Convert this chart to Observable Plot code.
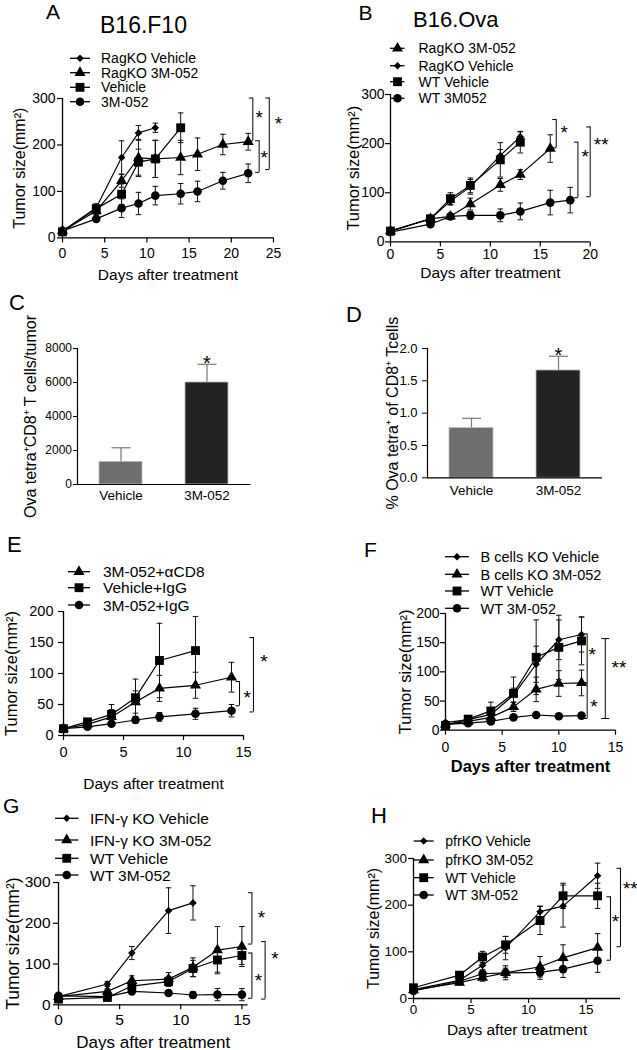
<!DOCTYPE html>
<html><head><meta charset="utf-8">
<script src="https://cdn.jsdelivr.net/npm/d3@7"></script>
<script src="https://cdn.jsdelivr.net/npm/@observablehq/plot@0.6"></script>
<style>
html,body{margin:0;padding:0;background:#fff;}
#page{position:relative;width:637px;height:1050px;overflow:hidden;background:#fff;font-family:"Liberation Sans",Arial,Helvetica,sans-serif;}
#page svg{position:absolute;}
</style></head>
<body><div id="page"></div>
<script>
// ================= DATA =================
// rows: [day, mean, sem]
// ---- Panel A: B16.F10
const A_title = "B16.F10";
const A_names = ["RagKO Vehicle", "RagKO 3M-052", "Vehicle", "3M-052"];
const A_shapes = ["diamond", "triangle", "square", "circle"];
const A_ragkoVehicle = [[0,15,3],[4,65,8],[7,173,36],[9,226,16],[11,237,10]];
const A_ragko3M052  = [[0,15,3],[4,58,8],[7,123,14],[9,172,40],[11,170,40],[14,173,37],[16,180,35],[19,201,22],[22,207,18]];
const A_vehicle     = [[0,13,3],[4,63,10],[7,94,22],[9,163,28],[11,170,40],[14,237,32]];
const A_3M052       = [[0,15,3],[4,41,4],[7,64,20],[9,74,24],[11,91,20],[14,95,22],[16,100,22],[19,123,18],[22,139,20]];
const A_xTicks = [0,5,10,15,20,25];
const A_yTicks = [0,100,200,300];
// brackets: [x, yTop, yBottom, label, labelX, labelY, capsBothSides]
const A_brackets = [[22.55,301,209,"*",23.3,268,0],[23.3,209,141,"*",23.9,182,0],[24.5,301,147,"*",25.6,257,0]];

// ---- Panel B: B16.Ova
const B_title = "B16.Ova";
const B_names = ["RagKO 3M-052", "RagKO Vehicle", "WT Vehicle", "WT 3M052"];
const B_shapes = ["triangle", "diamond", "square", "circle"];
const B_ragko3M052  = [[0,22,3],[4,47,5],[6,52,5],[8,77,12],[11,116,13],[13,137,10],[16,190,28]];
const B_ragkoVehicle = [[0,22,3],[4,47,5],[6,83,8],[8,112,15],[11,176,12],[13,214,10]];
const B_wtVehicle   = [[0,22,3],[4,47,5],[6,88,12],[8,115,15],[11,167,35],[13,203,22]];
const B_wt3M052     = [[0,20,3],[4,36,4],[6,52,5],[8,54,8],[11,54,13],[13,62,17],[16,80,25],[18,85,26]];
const B_xTicks = [0,5,10,15,20];
const B_yTicks = [0,100,200,300];
const B_brackets = [[16.6,249,191.5,"*",17.4,231,0],[18.77,203,90,"*",19.5,183,0],[20.0,234,92,"**",21.1,207,0]];

// ---- Panel C
const C_categories = ["Vehicle", "3M-052"];
const C_means = [1330, 6000];
const C_errors = [830, 1070];
const C_yTicks = [0,2000,4000,6000,8000];
const C_signif = ["", "*"];

// ---- Panel D
const D_categories = ["Vehicle", "3M-052"];
const D_means = [0.77, 1.66];
const D_errors = [0.15, 0.22];
const D_yTicks = [0,0.5,1.0,1.5,2.0];
const D_signif = ["", "*"];

// ---- Panel E
const E_names = ["3M-052+\u03b1CD8", "Vehicle+IgG", "3M-052+IgG"];
const E_shapes = ["triangle", "square", "circle"];
const E_aCD8   = [[0,11,2],[2,18,4],[4,30,12],[6,54,18],[8,76,21],[11,81,21],[14,94,24]];
const E_vehIgG = [[0,11,2],[2,22,4],[4,34,16],[6,61,30],[8,121,60],[11,137,55]];
const E_3MIgG  = [[0,11,2],[2,14,3],[4,19,4],[6,25,5],[8,30,7],[11,35,9],[14,40,10]];
const E_xTicks = [0,5,10,15];
const E_yTicks = [0,50,100,150,200];
const E_brackets = [[15.83,158,38,"*",16.7,127,0],[14.67,87,48,"*",15.3,68,0]];

// ---- Panel F
const F_names = ["B cells KO Vehicle", "B cells KO 3M-052", "WT Vehicle", "WT 3M-052"];
const F_shapes = ["diamond", "triangle", "square", "circle"];
const F_bkoVehicle = [[0,13,3],[2,18,4],[4,27,6],[6,60,12],[8,113,31],[10,155,34],[12,164,30]];
const F_bko3M052   = [[0,10,3],[2,15,4],[4,22,5],[6,40,8],[8,70,21],[10,80,22],[12,81,22]];
const F_wtVehicle  = [[0,8,3],[2,19,4],[4,33,15],[6,63,28],[8,125,64],[10,142,55],[12,153,41]];
const F_wt3M052    = [[0,10,2],[2,12,3],[4,15,3],[6,22,4],[8,26,4],[10,24,4],[12,25,4]];
const F_xTicks = [0,5,10,15];
const F_yTicks = [0,50,100,150,200];
const F_brackets = [[12.5,165,81,"*",12.95,137,0],[12.5,81,20,"*",13.1,48,0],[14.1,157,20,"**",15.3,115,1]];

// ---- Panel G
const G_names = ["IFN-\u03b3 KO Vehicle", "IFN-\u03b3 KO 3M-052", "WT Vehicle", "WT 3M-052"];
const G_shapes = ["diamond", "triangle", "square", "circle"];
const G_ifngVehicle = [[0,20,3],[4,51,6],[6,127,16],[9,231,56],[11,250,42]];
const G_ifng3M052   = [[0,20,3],[4,33,6],[6,59,12],[9,63,16],[11,92,23],[13,134,58],[15,143,49]];
const G_wtVehicle   = [[0,14,3],[4,18,5],[6,46,10],[9,57,12],[11,89,20],[13,110,30],[15,121,22]];
const G_wt3M052     = [[0,22,5],[4,20,5],[6,33,6],[9,29,6],[11,24,8],[13,25,15],[15,25,15]];
const G_xTicks = [0,5,10,15];
const G_yTicks = [0,100,200,300];
const G_brackets = [[15.82,275,149,"*",16.6,226,0],[16.9,155,14,"*",17.7,124,0],[15.82,127,16,"*",16.35,71,0]];

// ---- Panel H
const H_names = ["pfrKO Vehicle", "pfrKO 3M-052", "WT Vehicle", "WT 3M-052"];
const H_shapes = ["diamond", "triangle", "square", "circle"];
const H_pfrVehicle = [[0,19,3],[4,39,5],[6,71,10],[8,108,25],[11,186,12],[13,198,45],[16,263,27]];
const H_pfr3M052   = [[0,18,3],[4,34,5],[6,45,8],[8,55,15],[11,68,22],[13,87,28],[16,109,30]];
const H_wtVehicle  = [[0,23,4],[4,50,5],[6,89,12],[8,115,18],[11,167,30],[13,220,27],[16,220,27]];
const H_wt3M052    = [[0,16,3],[4,37,5],[6,53,8],[8,55,10],[11,56,15],[13,63,18],[16,81,25]];
const H_xTicks = [0,5,10,15];
const H_yTicks = [0,100,200,300];
const H_brackets = [[17.12,218,82,"*",17.55,175,0],[17.99,279,111,"**",18.85,246,0]];

// ================= RENDERING =================
const FONT = '"Liberation Sans", Arial, Helvetica, sans-serif';
const page = document.getElementById("page");
const SYM = {
  diamond:  {plot: "diamond2", d3: d3.symbolDiamond2, r: 3.4},
  triangle: {plot: "triangle", d3: d3.symbolTriangle, r: 4.1},
  square:   {plot: "square",   d3: d3.symbolSquare,   r: 5.0},
  circle:   {plot: "circle",   d3: d3.symbolCircle,   r: 4.3}
};
const capBoth = {draw(ctx, size) { const r = Math.sqrt(size / Math.PI); ctx.moveTo(-r, 0); ctx.lineTo(r, 0); }};
const capLeft = {draw(ctx, size) { const r = Math.sqrt(size / Math.PI); ctx.moveTo(-r, 0); ctx.lineTo(0, 0); }};

function place(el, left, top) {
  el.style.position = "absolute";
  el.style.left = left + "px";
  el.style.top = top + "px";
  page.appendChild(el);
}

function linePanel(c) {
  const ml = 80, mr = 60, mt = 30, mb = 70;
  const f = c.frame;
  const rows = c.series.flatMap((data, i) => data.map(([day, mean, err]) => ({name: c.names[i], shape: c.shapes[i], day, mean, err})));
  const brk = c.brackets.map(([x, y1, y2, label, lx, ly, both]) => ({x, y1, y2, label, lx, ly, both}));
  const ends = brk.flatMap(b => [{x: b.x, y: b.y1, both: b.both}, {x: b.x, y: b.y2, both: b.both}]);
  const marks = [
    Plot.ruleX(rows, {x: "day", y1: d => d.mean - d.err, y2: d => d.mean + d.err, stroke: "#111", strokeWidth: 1}),
    Plot.dot(rows, {x: "day", y: d => d.mean + d.err, symbol: capBoth, r: 2.8, stroke: "#111", fill: "none", strokeWidth: 1}),
    Plot.dot(rows, {x: "day", y: d => d.mean - d.err, symbol: capBoth, r: 2.8, stroke: "#111", fill: "none", strokeWidth: 1}),
    Plot.line(rows, {x: "day", y: "mean", z: "name", stroke: "#000", strokeWidth: 1.2}),
    ...c.names.map((n, i) => Plot.dot(rows.filter(r => r.name === n), {x: "day", y: "mean", symbol: SYM[c.shapes[i]].plot, r: SYM[c.shapes[i]].r, fill: "#000", stroke: "none"})),
    Plot.ruleX([0], {stroke: "#000", strokeWidth: 1.3}),
    Plot.ruleY([0], {stroke: "#000", strokeWidth: 1.3}),
    Plot.axisX({ticks: c.xTicks, tickSize: 5, tickPadding: c.xPad, fontSize: c.tickFont, label: null, tickFormat: d => String(d), stroke: "#000", strokeWidth: 1.2}),
    Plot.axisY({ticks: c.yTicks, tickSize: 5, tickPadding: c.yPad, fontSize: c.tickFont, label: null, tickFormat: d => String(d), stroke: "#000", strokeWidth: 1.2}),
    Plot.text(["Tumor size(mm\u00b2)"], {frameAnchor: "left", rotate: -90, dx: -c.yLabOff, lineAnchor: "top", textAnchor: "middle", fontSize: c.yLabFont, fill: "#000"}),
    Plot.text(["Days after treatment"], {frameAnchor: "bottom", dy: c.xLabOff, lineAnchor: "bottom", textAnchor: "middle", fontSize: c.xLabFont, fontWeight: c.xLabWeight || "normal", fill: "#000"}),
    Plot.ruleX(brk, {x: "x", y1: "y1", y2: "y2", stroke: "#000", strokeWidth: 1}),
    Plot.dot(ends.filter(e => !e.both), {x: "x", y: "y", symbol: capLeft, r: 4, stroke: "#000", fill: "none", strokeWidth: 1}),
    Plot.dot(ends.filter(e => e.both), {x: "x", y: "y", symbol: capBoth, r: 4, stroke: "#000", fill: "none", strokeWidth: 1}),
    Plot.text(brk, {x: "lx", y: "ly", text: "label", fontSize: 19, lineAnchor: "middle", textAnchor: "middle", dy: 5, fill: "#000"})
  ];
  const el = Plot.plot({
    width: (f.x1 - f.x0) + ml + mr, height: (f.yB - f.yT) + mt + mb,
    marginLeft: ml, marginRight: mr, marginTop: mt, marginBottom: mb,
    x: {domain: c.xDomain}, y: {domain: c.yDomain},
    style: {background: "transparent", overflow: "visible", fontFamily: FONT, color: "#000", maxWidth: "none"},
    marks
  });
  place(el, f.x0 - ml, f.yT - mt);
}

function barPanel(c) {
  const ml = 80, mr = 40, mt = 30, mb = 50;
  const f = c.frame;
  const rows = c.categories.map((cat, i) => ({cat, mean: c.means[i], err: c.errors[i], sig: c.signif[i]}));
  const el = Plot.plot({
    width: (f.x1 - f.x0) + ml + mr, height: (f.yB - f.yT) + mt + mb,
    marginLeft: ml, marginRight: mr, marginTop: mt, marginBottom: mb,
    x: {domain: c.categories, paddingInner: 0.5, paddingOuter: 0.25},
    y: {domain: c.yDomain},
    style: {background: "transparent", overflow: "visible", fontFamily: FONT, color: "#000", maxWidth: "none"},
    marks: [
      Plot.ruleX(rows, {x: "cat", y1: "mean", y2: d => d.mean + d.err, stroke: "#7a7a7a", strokeWidth: 1.2}),
      Plot.dot(rows, {x: "cat", y: d => d.mean + d.err, symbol: capBoth, r: 9.5, stroke: "#7a7a7a", fill: "none", strokeWidth: 1.2}),
      Plot.barY(rows, {x: "cat", y: "mean", fill: (d, i) => c.fills[i], stroke: "#bdbdbd", strokeWidth: 0.8}),
      Plot.text(rows, {x: "cat", y: d => d.mean + d.err, text: "sig", fontSize: 20, lineAnchor: "middle", dy: -1, fill: "#000"}),
      Plot.frame({anchor: "left", stroke: "#000", strokeWidth: 1.2}),
      Plot.ruleY([0], {stroke: "#000", strokeWidth: 1.2}),
      Plot.axisY({ticks: c.yTicks, tickSize: c.yTickSize, tickPadding: c.yPad, fontSize: c.tickFont, label: null, tickFormat: c.tickFormat, stroke: "#000"}),
      Plot.axisX({tickSize: 0, tickPadding: c.xPad, fontSize: c.catFont, label: null}),
      Plot.text([c.yLabel], {frameAnchor: "left", rotate: -90, dx: -c.yLabOff, lineAnchor: "top", textAnchor: "middle", fontSize: c.yLabFont, fill: "#000"})
    ]
  });
  place(el, f.x0 - ml, f.yT - mt);
}

// ---- draw panels
linePanel({frame: {x0: 62.3, x1: 273.3, yT: 98.3, yB: 237.7}, xDomain: [0,25], yDomain: [0,300],
  xTicks: A_xTicks, yTicks: A_yTicks, names: A_names, shapes: A_shapes,
  series: [A_ragkoVehicle, A_ragko3M052, A_vehicle, A_3M052], brackets: A_brackets,
  tickFont: 14, xPad: 5, yPad: 2, yLabOff: 49, yLabFont: 16, xLabOff: 42, xLabFont: 15.5});

linePanel({frame: {x0: 390.3, x1: 590, yT: 94.3, yB: 241.7}, xDomain: [0,20], yDomain: [0,300],
  xTicks: B_xTicks, yTicks: B_yTicks, names: B_names, shapes: B_shapes,
  series: [B_ragko3M052, B_ragkoVehicle, B_wtVehicle, B_wt3M052], brackets: B_brackets,
  tickFont: 14, xPad: 2, yPad: 1, yLabOff: 43, yLabFont: 16.5, xLabOff: 36, xLabFont: 15.5});

barPanel({frame: {x0: 77.3, x1: 250.7, yT: 348.3, yB: 484.3}, yDomain: [0,8000],
  categories: C_categories, means: C_means, errors: C_errors, signif: C_signif, yTicks: C_yTicks,
  fills: ["#6e6e6e", "#232323"], tickFormat: d => String(d), yTickSize: 4, yPad: 1.5, xPad: 6,
  tickFont: 12, catFont: 13.5, yLabel: "Ova tetra\u207aCD8\u207a T cells/tumor", yLabOff: 53, yLabFont: 16});

barPanel({frame: {x0: 427, x1: 602, yT: 347.7, yB: 477}, yDomain: [0,2],
  categories: D_categories, means: D_means, errors: D_errors, signif: D_signif, yTicks: D_yTicks,
  fills: ["#6e6e6e", "#232323"], tickFormat: d => d.toFixed(1), yTickSize: 5, yPad: 5, xPad: 8,
  tickFont: 13, catFont: 13.5, yLabel: "% Ova tetra\u207a of CD8\u207a Tcells", yLabOff: 41, yLabFont: 16});

linePanel({frame: {x0: 63.3, x1: 243.3, yT: 611, yB: 735}, xDomain: [0,15], yDomain: [0,200],
  xTicks: E_xTicks, yTicks: E_yTicks, names: E_names, shapes: E_shapes,
  series: [E_aCD8, E_vehIgG, E_3MIgG], brackets: E_brackets,
  tickFont: 14.5, xPad: 6.5, yPad: 5, yLabOff: 58, yLabFont: 16.5, xLabOff: 53, xLabFont: 15.5});

linePanel({frame: {x0: 444.7, x1: 614.7, yT: 613.3, yB: 730}, xDomain: [0,15], yDomain: [0,200],
  xTicks: F_xTicks, yTicks: F_yTicks, names: F_names, shapes: F_shapes,
  series: [F_bkoVehicle, F_bko3M052, F_wtVehicle, F_wt3M052], brackets: F_brackets,
  tickFont: 14, xPad: 6.5, yPad: 1, yLabOff: 46, yLabFont: 16.5, xLabOff: 42, xLabFont: 16.5, xLabWeight: "bold"});

linePanel({frame: {x0: 58.3, x1: 247.8, yT: 881.7, yB: 1004}, xDomain: [0,15.5], yDomain: [0,300],
  xTicks: G_xTicks, yTicks: G_yTicks, names: G_names, shapes: G_shapes,
  series: [G_ifngVehicle, G_ifng3M052, G_wtVehicle, G_wt3M052], brackets: G_brackets,
  tickFont: 15.5, xPad: 4, yPad: 3, yLabOff: 52, yLabFont: 17.5, xLabOff: 43, xLabFont: 17});

linePanel({frame: {x0: 412.7, x1: 619.8, yT: 858.3, yB: 998.3}, xDomain: [0,18], yDomain: [0,300],
  xTicks: H_xTicks, yTicks: H_yTicks, names: H_names, shapes: H_shapes,
  series: [H_pfrVehicle, H_pfr3M052, H_wtVehicle, H_wt3M052], brackets: H_brackets,
  tickFont: 13.5, xPad: 1, yPad: 1.5, yLabOff: 46, yLabFont: 16, xLabOff: 37, xLabFont: 15.5});

// ---- overlay: panel letters, titles, legends
const ov = d3.select(page).append("svg").attr("width", 637).attr("height", 1050)
  .style("left", "0px").style("top", "0px").style("font-family", FONT).style("pointer-events", "none");
const letters = [["A",46,18.5,21],["B",358.5,20,21],["C",9,310,22],["D",346,321.7,22],["E",7,552.3,22],["F",364,556.7,21],["G",3,813,21],["H",371,823,22]];
letters.forEach(([t,x,y,fs]) => ov.append("text").attr("x",x).attr("y",y).attr("font-size",fs).attr("fill","#000").text(t));
ov.append("text").attr("x",100).attr("y",33.3).attr("font-size",23).text(A_title);
ov.append("text").attr("x",413).attr("y",27).attr("font-size",22).text(B_title);

function legend(names, shapes, ys, lx1, lx2, sx, tx, fs) {
  names.forEach((name, i) => {
    const y = ys[i], s = SYM[shapes[i]];
    ov.append("line").attr("x1",lx1).attr("x2",lx2).attr("y1",y).attr("y2",y).attr("stroke","#000").attr("stroke-width",1.3);
    ov.append("path").attr("d", d3.symbol(s.d3, Math.PI*s.r*s.r)()).attr("transform",`translate(${sx},${y})`).attr("fill","#000");
    ov.append("text").attr("x",tx).attr("y",y + 0.36*fs).attr("font-size",fs).attr("fill","#000").text(name);
  });
}
legend(A_names, A_shapes, [58.3,72.7,87.3,101.7], 70, 90, 80, 101, 14);
legend(B_names, B_shapes, [48.3,65.7,81.7,98.3], 390, 404.5, 397.5, 418.5, 14);
legend(E_names, E_shapes, [571.7,587.7,605], 68, 90, 79, 103, 15.5);
legend(F_names, F_shapes, [556.7,574.3,591,608.3], 445, 469, 457, 480.5, 14.5);
legend(G_names, G_shapes, [818.3,840,858.3,875], 55, 78.5, 66.7, 90, 15.5);
legend(H_names, H_shapes, [841,860,877.7,895], 413.7, 433.7, 423.7, 445.3, 14);
</script>
</body></html>
